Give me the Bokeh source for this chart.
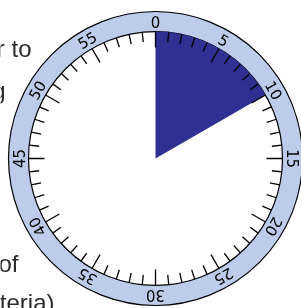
import math
from bokeh.plotting import figure
from bokeh.models import Range1d
from bokeh.core.properties import value
from bokeh.embed import file_html
from bokeh.resources import INLINE

# data
elapsed_minutes = 10
minutes = list(range(60))
label_minutes = [0, 5, 10, 15, 20, 25, 30, 35, 40, 45, 50, 55]
label_texts = [str(m) for m in label_minutes]
bg_texts = ["r to", "g", "of", "teria)"]
bg_right_x = [31, 5, 18, 54]
bg_baseline_y = [48, 90, 263, 302]

W, H = 301, 308
CX, CY = 155, H - 158
R_OUT, R_IN = 147, 127

p = figure(width=W, height=H, x_range=Range1d(0, W), y_range=Range1d(0, H),
           output_backend="svg", toolbar_location=None, min_border=0)
p.axis.visible = False
p.grid.visible = False
p.outline_line_color = None
p.background_fill_color = "white"
p.border_fill_color = "white"
p.styles = {"position": "fixed", "left": "0px", "top": "0px"}

# background paragraph text (mostly hidden by dial)
p.text(x=bg_right_x, y=[H - y for y in bg_baseline_y], text=bg_texts,
       text_align="right", text_baseline="alphabetic",
       text_font=value("Liberation Sans"), text_font_size="24px",
       text_color="#2b2b2b")

# dial
p.circle(x=[CX], y=[CY], radius=R_OUT, fill_color="#BCCCEA",
         line_color="black", line_width=1.2)
p.circle(x=[CX], y=[CY], radius=R_IN, fill_color="white",
         line_color="black", line_width=1.2)

# elapsed wedge
p.wedge(x=[CX], y=[CY], radius=R_IN,
        start_angle=math.pi / 2 - math.radians(6 * elapsed_minutes),
        end_angle=math.pi / 2, direction="anticlock",
        fill_color="#2E3192", line_color=None)

# ticks
x0, y0, x1, y1 = [], [], [], []
for m in minutes:
    a = math.pi / 2 - math.radians(6 * m)
    ln = 16 if m % 5 == 0 else 10
    x0.append(CX + R_IN * math.cos(a)); y0.append(CY + R_IN * math.sin(a))
    x1.append(CX + (R_IN - ln) * math.cos(a)); y1.append(CY + (R_IN - ln) * math.sin(a))
p.segment(x0=x0, y0=y0, x1=x1, y1=y1, line_color="black", line_width=1.3)

# labels
R_LAB = 137
lx = [CX + R_LAB * math.cos(math.pi / 2 - math.radians(6 * m)) for m in label_minutes]
ly = [CY + R_LAB * math.sin(math.pi / 2 - math.radians(6 * m)) for m in label_minutes]
la = [-math.radians(6 * m) for m in label_minutes]
p.text(x=lx, y=ly, text=label_texts, angle=la, text_align="center",
       text_baseline="middle", text_font=value("DejaVu Sans"),
       text_font_size="15px", text_color="black")

open("out.html", "w").write(file_html(p, INLINE))
